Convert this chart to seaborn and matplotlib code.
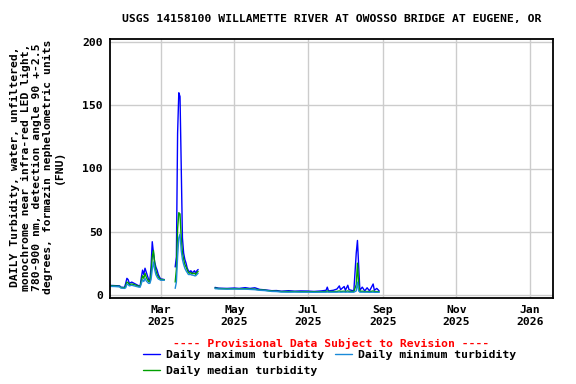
import matplotlib
matplotlib.use("Agg")
import matplotlib.pyplot as plt
from matplotlib.lines import Line2D
import seaborn as sns
import pandas as pd
import numpy as np

# datos (FNU por dia)
fechas_1 = ["2025-01-18", "2025-01-22", "2025-01-26", "2025-01-27", "2025-01-30", "2025-01-31",
            "2025-02-01", "2025-02-02", "2025-02-03", "2025-02-05", "2025-02-07", "2025-02-09",
            "2025-02-11", "2025-02-12", "2025-02-13", "2025-02-14", "2025-02-15", "2025-02-16",
            "2025-02-17", "2025-02-18", "2025-02-19", "2025-02-20", "2025-02-21", "2025-02-22",
            "2025-02-23", "2025-02-24", "2025-02-25", "2025-02-26", "2025-02-27", "2025-02-28",
            "2025-03-01", "2025-03-02", "2025-03-04"]
max_1 = [7.4, 7.2, 7.0, 6.0, 5.8, 9.0, 13.0, 12.0, 9.0, 10.0, 9.0, 8.0, 7.0, 7.0, 14.0, 19.5, 16.0,
         21.0, 18.0, 15.0, 12.0, 11.0, 22.0, 42.0, 33.0, 26.0, 22.0, 19.5, 16.0, 14.0, 12.5, 12.4, 12.0]
med_1 = [7.0, 6.9, 6.6, 5.7, 5.4, 7.0, 10.0, 9.5, 8.0, 8.5, 8.0, 7.3, 6.5, 6.5, 11.0, 15.0, 13.0,
         17.0, 14.0, 12.0, 10.5, 10.0, 16.0, 30.0, 35.0, 25.0, 19.0, 16.0, 14.0, 13.0, 12.0, 12.0, 11.8]
min_1 = [6.6, 6.5, 6.2, 5.3, 5.0, 5.5, 8.4, 8.0, 7.0, 7.5, 7.0, 6.5, 6.0, 6.0, 9.0, 12.0, 10.5,
         13.0, 11.0, 10.0, 9.0, 9.0, 12.0, 20.0, 26.0, 20.0, 16.0, 14.0, 12.5, 12.0, 11.5, 11.5, 11.5]

fechas_2 = ["2025-03-13", "2025-03-14", "2025-03-15", "2025-03-16", "2025-03-17", "2025-03-18",
            "2025-03-19", "2025-03-20", "2025-03-21", "2025-03-22", "2025-03-23", "2025-03-24",
            "2025-03-25", "2025-03-26", "2025-03-27", "2025-03-28", "2025-03-29", "2025-03-30",
            "2025-03-31", "2025-04-01"]
max_2 = [22.0, 30.0, 128.0, 160.0, 157.0, 102.0, 45.0, 33.0, 28.0, 25.0, 21.0, 19.0, 18.0, 19.0,
         17.5, 18.0, 19.0, 17.0, 19.0, 20.0]
med_2 = [10.0, 20.0, 52.0, 65.0, 64.0, 45.0, 33.0, 28.0, 24.0, 22.0, 19.5, 17.5, 17.0, 17.5,
         16.5, 17.0, 17.0, 16.0, 17.5, 18.5]
min_2 = [5.0, 10.0, 30.0, 45.0, 48.0, 35.0, 28.0, 24.0, 21.0, 19.0, 17.5, 16.0, 16.0, 16.0,
         15.5, 15.5, 15.0, 15.0, 16.0, 17.0]

fechas_3 = ["2025-04-15", "2025-04-18", "2025-04-25", "2025-05-01", "2025-05-05", "2025-05-10",
            "2025-05-14", "2025-05-18", "2025-05-22", "2025-05-26", "2025-06-01", "2025-06-05",
            "2025-06-09", "2025-06-15", "2025-06-20", "2025-06-25", "2025-07-01", "2025-07-06",
            "2025-07-12", "2025-07-16", "2025-07-17", "2025-07-18", "2025-07-22", "2025-07-25",
            "2025-07-27", "2025-07-28", "2025-07-31", "2025-08-01", "2025-08-03", "2025-08-04",
            "2025-08-08", "2025-08-10", "2025-08-11", "2025-08-12", "2025-08-13", "2025-08-15",
            "2025-08-17", "2025-08-19", "2025-08-21", "2025-08-24", "2025-08-25", "2025-08-27",
            "2025-08-29"]
max_3 = [5.8, 5.2, 5.0, 5.3, 5.0, 5.6, 5.0, 5.5, 4.2, 3.9, 3.2, 3.3, 2.8, 3.2, 2.8, 3.0, 2.9, 2.6,
         3.0, 3.5, 6.0, 3.0, 3.5, 4.5, 7.0, 4.0, 6.5, 3.5, 7.5, 4.0, 3.0, 33.0, 43.0, 23.0, 3.5, 6.0,
         3.0, 5.5, 3.0, 8.5, 3.5, 5.0, 3.0]
med_3 = [5.3, 4.9, 4.7, 4.8, 4.7, 4.8, 4.5, 4.4, 3.8, 3.6, 2.9, 2.8, 2.5, 2.5, 2.5, 2.4, 2.4, 2.3,
         2.4, 2.5, 3.0, 2.5, 2.5, 2.6, 3.0, 2.6, 2.8, 2.5, 3.0, 2.6, 2.5, 8.0, 25.0, 8.0, 2.6, 2.8,
         2.4, 2.6, 2.3, 3.0, 2.4, 2.5, 2.3]
min_3 = [4.8, 4.6, 4.4, 4.5, 4.4, 4.4, 4.2, 4.0, 3.5, 3.3, 2.6, 2.5, 2.1, 2.0, 2.1, 2.0, 2.0, 1.9,
         2.0, 2.0, 2.1, 2.0, 2.0, 2.0, 2.1, 2.0, 2.1, 2.0, 2.1, 2.0, 2.0, 3.0, 10.0, 3.0, 2.0, 2.0,
         2.0, 2.0, 1.9, 2.0, 1.9, 1.9, 1.9]

series = ["Daily maximum turbidity", "Daily median turbidity", "Daily minimum turbidity"]
colores = {"Daily maximum turbidity": "#0000ff",
           "Daily median turbidity": "#00a000",
           "Daily minimum turbidity": "#1a8ad8"}

tick_fechas = ["2025-03-01", "2025-05-01", "2025-07-01", "2025-09-01", "2025-11-01", "2026-01-01"]
tick_labels = ["Mar\n2025", "May\n2025", "Jul\n2025", "Sep\n2025", "Nov\n2025", "Jan\n2026"]

# armar tabla larga: un tramo por segmento para que no se unan los huecos
filas = []
for seg, (f, mx, md, mn) in enumerate([(fechas_1, max_1, med_1, min_1),
                                       (fechas_2, max_2, med_2, min_2),
                                       (fechas_3, max_3, med_3, min_3)]):
    for nombre, vals in zip(series, [mx, md, mn]):
        for fecha, v in zip(f, vals):
            filas.append({"fecha": pd.Timestamp(fecha), "valor": v, "serie": nombre, "seg": seg})
df = pd.DataFrame(filas)

sns.set_style("white")
plt.rcParams['font.family'] = ['DejaVu Sans Mono']
plt.rcParams['font.weight'] = 'bold'
plt.rcParams['text.color'] = 'black'
plt.rcParams['xtick.color'] = 'black'
plt.rcParams['ytick.color'] = 'black'
fs = 8.2

fig = plt.figure(figsize=(5.76, 3.84), dpi=100)
ax = fig.add_axes([110 / 576, 1 - 298 / 384, 443 / 576, 259 / 384])

sns.lineplot(data=df, x="fecha", y="valor", hue="serie", units="seg", estimator=None,
             hue_order=series, palette=colores, linewidth=1, legend=False, ax=ax)

ax.set_xlim(pd.Timestamp("2025-01-18"), pd.Timestamp("2026-01-20"))
ax.set_ylim(-2.6, 202.6)
ax.set_yticks([0, 50, 100, 150, 200])
ax.set_xticks([pd.Timestamp(t) for t in tick_fechas])
ax.set_xticklabels(tick_labels, linespacing=1.3)
ax.tick_params(axis='both', length=0, labelsize=fs, pad=5, labelcolor='black')
for lab in ax.get_xticklabels() + ax.get_yticklabels():
    lab.set_fontweight('bold')
ax.grid(True, color='#cccccc', linewidth=1)
ax.set_axisbelow(True)
for s in ax.spines.values():
    s.set_color('black')
    s.set_linewidth(1.3)
ax.set_xlabel('')
ax.set_ylabel('')

fig.text(37 / 576, 1 - 167 / 384,
         "DAILY Turbidity, water, unfiltered,\nmonochrome near infra-red LED light,\n"
         "780-900 nm, detection angle 90 +-2.5\ndegrees, formazin nephelometric units\n(FNU)",
         rotation=90, ha='center', va='center', multialignment='center',
         fontsize=fs, fontweight='bold', linespacing=1.1, color='black')

fig.text(331.5 / 576, 1 - 19 / 384,
         "USGS 14158100 WILLAMETTE RIVER AT OWOSSO BRIDGE AT EUGENE, OR",
         ha='center', va='center', fontsize=fs, fontweight='bold', color='black')

fig.text(331.5 / 576, 1 - 343 / 384, "---- Provisional Data Subject to Revision ----",
         ha='center', va='center', fontsize=fs, fontweight='bold', color='red')

handles = [Line2D([], [], color=colores[s], linewidth=1) for s in series]
leg = fig.legend(handles, series, loc='upper left', bbox_to_anchor=(143 / 576, 1 - 350 / 384),
                 ncol=2, frameon=False, fontsize=fs, handlelength=1.5, handletextpad=0.5,
                 columnspacing=1.0, labelspacing=0.55, borderaxespad=0, borderpad=0)
for t in leg.get_texts():
    t.set_color('black')

plt.savefig("out.png", dpi=100)
plt.close()
